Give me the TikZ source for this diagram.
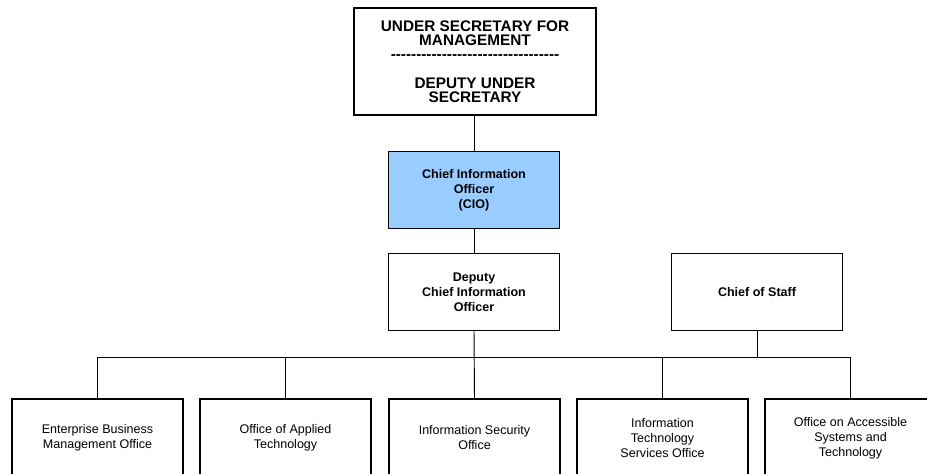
\documentclass[tikz,border=0pt]{standalone}
\usepackage{fontspec}
\setmainfont{Liberation Sans}
\newcommand{\hyrow}{\foreach \i in {1,...,33}{-\kern0pt}}
\begin{document}
\begin{tikzpicture}[x=0.75pt,y=-0.75pt,
  box/.style={draw=black,line width=0.8pt,rectangle,inner sep=0pt,align=center},
  topbox/.style={box,minimum width=181.5pt,minimum height=80.25pt,font=\fontsize{11.5}{10.65}\selectfont\bfseries},
  midbox/.style={box,minimum width=128.25pt,minimum height=58pt,font=\fontsize{9.4}{11.25}\selectfont\bfseries},
  lowbox/.style={box,minimum width=128.25pt,minimum height=58.5pt,font=\fontsize{9.4}{11.25}\selectfont},
  conn/.style={draw=black,line width=0.7pt}]
\useasboundingbox (0,0) rectangle (927,474);
\clip (0,0) rectangle (927,474);
\node[topbox] (top) at (475,61.5) {UNDER SECRETARY FOR\\MANAGEMENT\\\hyrow\\[10.65pt]DEPUTY UNDER\\SECRETARY};
\node[midbox,fill={rgb,255:red,153;green,204;blue,255}] (cio) at (474,190) {Chief Information\\Officer\\(CIO)};
\node[midbox] (dep) at (474,292) {Deputy\\Chief Information\\Officer};
\node[midbox] (cos) at (757,292) {Chief of Staff};
\node[lowbox] (b1) at (97.5,438) {Enterprise Business\\Management Office};
\node[lowbox] (b2) at (285.5,438) {Office of Applied\\Technology};
\node[lowbox] (b3) at (474.5,438) {Information Security\\Office};
\node[lowbox] (b4) at (662.5,438) {Information\\Technology\\Services Office};
\node[lowbox] (b5) at (850.5,438) {Office on Accessible\\Systems and\\Technology};
\coordinate (bus) at (0,357);
\draw[conn] (top.south) -- (top.south -| cio.north);
\draw[conn] (top.south -| cio.north) -- (cio.north);
\draw[conn] (cio.south) -- (dep.north);
\draw[conn] (dep.south) -- (b3.north);
\draw[conn] (cos.south) -- (cos.south |- bus);
\draw[conn] (b1.north) -- (b1.north |- bus) -- (b5.north |- bus) -- (b5.north);
\draw[conn] (b2.north) -- (b2.north |- bus);
\draw[conn] (b4.north) -- (b4.north |- bus);
\end{tikzpicture}
\end{document}
